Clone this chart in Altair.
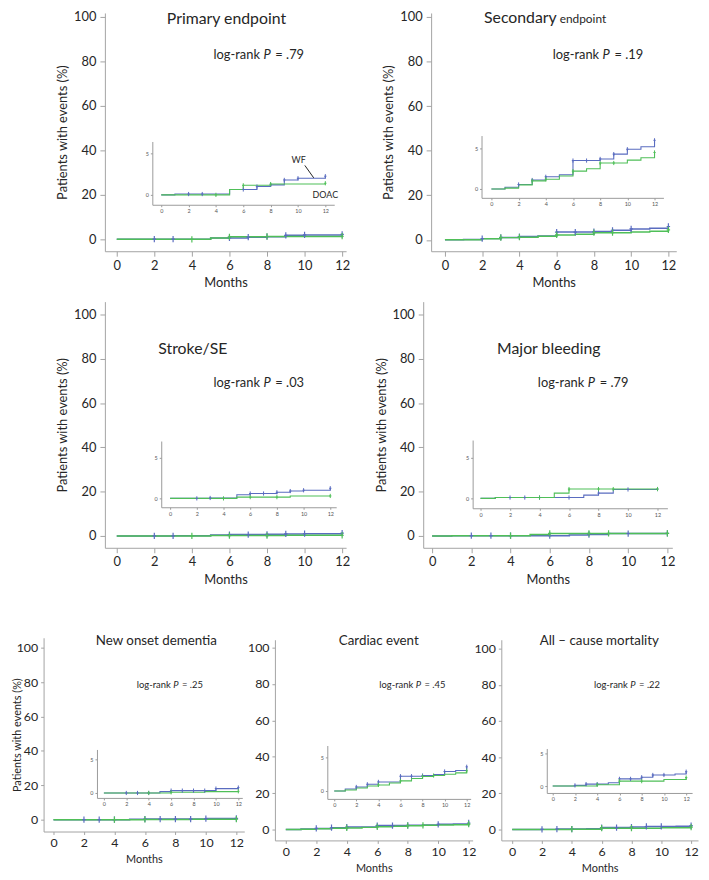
import altair as alt
import pandas as pd

# ---------------- data ----------------
title_main = ["Primary endpoint", "Secondary", "Stroke/SE", "Major bleeding",
              "New onset dementia", "Cardiac event", "All \u2013 cause mortality"]
title_tail = ["", "endpoint", "", "", "", "", ""]
pvalues = [".79", ".19", ".03", ".79", ".25", ".45", ".22"]
month_ticks = [0, 2, 4, 6, 8, 10, 12]
main_pct_ticks = [0, 20, 40, 60, 80, 100]
inset_pct_ticks = [0, 5]
groups = ["WF", "DOAC"]

wf_t = [
    [0, 1, 5, 7, 8, 9, 10, 12],
    [0, 1, 2, 3, 4, 5, 6, 8, 9, 10, 11, 12],
    [0, 3, 5, 6, 8, 9, 10, 12],
    [0, 1, 7, 8, 9, 12],
    [0, 5, 6, 10, 12],
    [0, 1, 2, 3, 4, 6, 8, 9, 10, 11, 12],
    [0, 2, 3, 5, 6, 8, 9, 11, 12],
]
wf_v = [
    [0, 0.1, 0.65, 1.0, 1.2, 1.8, 2.0, 2.25],
    [0, 0.2, 0.55, 1.1, 1.5, 1.75, 3.5, 3.7, 4.3, 4.9, 5.2, 6.0],
    [0, 0.05, 0.45, 0.6, 0.75, 0.9, 1.0, 1.25],
    [0, 0.1, 0.4, 0.65, 1.1, 1.15],
    [0, 0.2, 0.35, 0.65, 0.8],
    [0, 0.3, 0.6, 1.0, 1.35, 2.2, 2.3, 2.45, 2.9, 3.05, 3.6],
    [0, 0.1, 0.3, 0.5, 1.1, 1.35, 1.7, 1.85, 2.2],
]
doac_t = [
    [0, 5, 6, 8, 12],
    [0, 1, 2, 3, 4, 5, 6, 7, 8, 10, 11, 12],
    [0, 5, 9, 12],
    [0, 1, 5, 6, 12],
    [0, 6, 9, 12],
    [0, 1, 2, 3, 4, 5, 6, 7, 8, 9, 10, 11, 12],
    [0, 4, 6, 10, 12],
]
doac_v = [
    [0, 0.65, 1.15, 1.3, 1.4],
    [0, 0.1, 0.5, 1.0, 1.2, 1.6, 2.2, 2.5, 3.2, 3.55, 3.85, 4.5],
    [0, 0.15, 0.3, 0.3],
    [0, 0.1, 0.65, 1.15, 1.15],
    [0, 0.1, 0.2, 0.25],
    [0, 0.15, 0.45, 0.75, 0.9, 1.2, 1.5, 1.85, 2.15, 2.3, 2.5, 2.7, 3.0],
    [0, 0.2, 0.75, 1.0, 1.3],
]
wf_cens = [
    [2, 3, 6, 7, 8, 9, 10, 12],
    [2, 3, 4, 6, 7, 8, 9, 10, 12],
    [2, 3, 6, 7, 8, 9, 10, 12],
    [2, 3, 4, 6, 8, 10, 12],
    [2, 3, 4, 6, 7, 8, 9, 10, 12],
    [2, 3, 4, 6, 7, 8, 10, 12],
    [2, 3, 4, 6, 7, 8, 9, 10, 12],
]
doac_cens = [
    [4, 6, 8, 12],
    [3, 4, 6, 8, 9, 12],
    [4, 6, 8, 12],
    [4, 6, 8, 9, 12],
    [4, 6, 12],
    [4, 6, 8, 9, 12],
    [4, 6, 8, 12],
]

# ---------------- layout (page pixels) ----------------
layouts = [
    dict(main=dict(ax=106, ay=249, x0=118, x12=346, xend=350, y0=237, ytv=12, ytop=8),
         inset=dict(ax=154, ay=202, x0=163, x12=329, xend=338, y0=192, ytv=150, ytop=138)),
    dict(main=dict(ax=436, ay=249, x0=450, x12=676, xend=684, y0=237.5, ytv=12, ytop=8),
         inset=dict(ax=487, ay=195, x0=497, x12=662, xend=671, y0=186, ytv=145, ytop=132)),
    dict(main=dict(ax=106, ay=549, x0=118, x12=346, xend=350, y0=537, ytv=313, ytop=300),
         inset=dict(ax=163, ay=508, x0=172, x12=334, xend=340, y0=499, ytv=458, ytop=441)),
    dict(main=dict(ax=428, ay=549, x0=437, x12=675, xend=680, y0=537, ytv=313, ytop=300),
         inset=dict(ax=478, ay=509, x0=486, x12=665, xend=675, y0=499, ytv=458, ytop=440)),
    dict(main=dict(ax=44, ay=836, x0=54, x12=239, xend=247, y0=824, ytv=650, ytop=640),
         inset=dict(ax=98, ay=802, x0=105, x12=241, xend=245, y0=797, ytv=763, ytop=753)),
    dict(main=dict(ax=278, ay=845, x0=289, x12=474, xend=478, y0=834, ytv=650, ytop=642),
         inset=dict(ax=331, ay=803, x0=338, x12=472, xend=476, y0=795, ytv=761, ytop=749)),
    dict(main=dict(ax=507, ay=845, x0=518, x12=699, xend=706, y0=834, ytv=651, ytop=642),
         inset=dict(ax=553, ay=797, x0=559, x12=694, xend=700, y0=790, ytv=757, ytop=752)),
]
# annotation anchors in data units (month, percent) of each main panel
annot = [
    dict(title=(5.84, 96.9), tfs=16, p=(8.0, 81.0), pfs=13, ytitle=True, row="top"),
    dict(title=(6.08, 97.1), tfs=16, p=(8.66, 81.1), pfs=13, ytitle=True, row="top"),
    dict(title=(4.05, 82.0), tfs=16, p=(8.0, 67.4), pfs=13, ytitle=True, row="top"),
    dict(title=(5.95, 82.0), tfs=16, p=(8.12, 67.4), pfs=13, ytitle=True, row="top"),
    dict(title=(6.75, 101.7), tfs=13.5, p=(8.03, 76.4), pfs=9.5, ytitle=True, row="bottom"),
    dict(title=(6.1, 101.6), tfs=13.5, p=(8.7, 77.7), pfs=9.5, ytitle=False, row="bottom"),
    dict(title=(5.84, 102.2), tfs=13.5, p=(8.1, 78.1), pfs=9.5, ytitle=False, row="bottom"),
]

FONT = "Lato"
INK = "#262626"
AXC = "#a3a3a3"
BLUE = "#5a6cc0"
GREEN = "#4fbf58"
PLUS = "M0,-1L0,1M-0.55,0L0.55,0"
OX = OY = 8
W, H = 701, 872

styles = {
    "top": dict(tick=5, lpad=3, lfs=13, tfs=13, xtpad=5, ytpad=4),
    "bottom": dict(tick=3, lpad=2, lfs=12.5, tfs=11, xtpad=5, ytpad=-6),
}


def step_val(times, vals, t):
    v = vals[0]
    for ti, vi in zip(times, vals):
        if ti <= t:
            v = vi
    return v


def make_scales(g, top):
    kx = (g["x12"] - g["x0"]) / 12.0
    ky = (g["y0"] - g["ytv"]) / float(top)
    xs = alt.Scale(domain=[(g["ax"] - g["x0"]) / kx, (g["xend"] - g["x0"]) / kx],
                   range=[g["ax"] - OX, g["xend"] - OX], nice=False, zero=False)
    ys = alt.Scale(domain=[(g["y0"] - g["ay"]) / ky, (g["y0"] - g["ytop"]) / ky],
                   range=[g["ay"] - OY, g["ytop"] - OY], nice=False, zero=False)
    return xs, ys


color = alt.Color("g:N", scale=alt.Scale(domain=groups, range=[BLUE, GREEN]), legend=None)


def text(X, Y, t, v, label, fs, align="center", dx=0, italic=False, baseline="alphabetic"):
    df = pd.DataFrame({"t": [t], "v": [v], "label": [label]})
    kw = dict(align=align, baseline=baseline, font=FONT, fontSize=fs, color=INK, dx=dx)
    if italic:
        kw["fontStyle"] = "italic"
    return alt.Chart(df).mark_text(**kw).encode(x=X, y=Y, text="label:N")


children = []
for i in range(7):
    rows = []
    for g_name, ts, vs in (("WF", wf_t[i], wf_v[i]), ("DOAC", doac_t[i], doac_v[i])):
        for t, v in zip(ts, vs):
            rows.append({"t": t, "v": v, "g": g_name})
    lines = pd.DataFrame(rows)
    crow = []
    for g_name, cs, ts, vs in (("WF", wf_cens[i], wf_t[i], wf_v[i]),
                               ("DOAC", doac_cens[i], doac_t[i], doac_v[i])):
        for c in cs:
            crow.append({"t": c, "v": step_val(ts, vs, c), "g": g_name})
    cens = pd.DataFrame(crow)

    A = annot[i]
    st = styles[A["row"]]

    # ---- main panel ----
    g = layouts[i]["main"]
    xs, ys = make_scales(g, 100)
    xa = alt.Axis(orient="bottom", offset=(g["ay"] - OY) - H, values=month_ticks, title="Months",
                  grid=False, domainColor=AXC, tickColor=AXC, tickSize=st["tick"],
                  labelPadding=st["lpad"], labelFont=FONT, labelFontSize=st["lfs"], labelColor=INK,
                  labelFlush=False, labelOverlap=False, titleFont=FONT, titleFontSize=st["tfs"],
                  titleFontWeight="normal", titleColor=INK, titlePadding=st["xtpad"])
    ya_kw = dict(orient="left", offset=-(g["ax"] - OX), values=main_pct_ticks, grid=False,
                 domainColor=AXC, tickColor=AXC, tickSize=st["tick"], labelPadding=st["lpad"] + 1,
                 labelFont=FONT, labelFontSize=st["lfs"], labelColor=INK, labelFlush=False,
                 labelOverlap=False, minExtent=0)
    if A["ytitle"]:
        ya = alt.Axis(title="Patients with events (%)", titleFont=FONT, titleFontSize=st["tfs"],
                      titleFontWeight="normal", titleColor=INK, titlePadding=st["ytpad"], **ya_kw)
    else:
        ya = alt.Axis(title=None, **ya_kw)
    X = alt.X("t:Q", scale=xs, axis=xa)
    Y = alt.Y("v:Q", scale=ys, axis=ya)
    layers = [
        alt.Chart(lines).mark_line(interpolate="step-after", strokeWidth=1.5).encode(x=X, y=Y, color=color),
        alt.Chart(cens).mark_point(shape=PLUS, size=40, filled=False, strokeWidth=1.2, opacity=1)
        .encode(x=X, y=Y, color=color),
    ]
    tt, tv = A["title"]
    if title_tail[i]:
        layers.append(text(X, Y, tt, tv, title_main[i], A["tfs"], align="right", dx=-1.5))
        layers.append(text(X, Y, tt, tv, title_tail[i], A["tfs"] * 0.75, align="left", dx=1.5))
    else:
        layers.append(text(X, Y, tt, tv, title_main[i], A["tfs"]))
    pt, pv = A["p"]
    fs = A["pfs"]
    layers.append(text(X, Y, pt, pv, "log-rank", fs, align="right", dx=-0.55 * fs))
    layers.append(text(X, Y, pt, pv, "P", fs, italic=True))
    layers.append(text(X, Y, pt, pv, "= " + pvalues[i], fs, align="left", dx=0.65 * fs))
    children.append(alt.layer(*layers))

    # ---- inset ----
    g = layouts[i]["inset"]
    xs, ys = make_scales(g, 5)
    ixa = alt.Axis(orient="bottom", offset=(g["ay"] - OY) - H, values=month_ticks, title=None,
                   grid=False, domainColor="#9a9a9a", tickColor="#9a9a9a", tickSize=2,
                   labelPadding=2, labelFont=FONT, labelFontSize=5.5, labelColor="#555555",
                   labelFlush=False, labelOverlap=False)
    iya = alt.Axis(orient="left", offset=-(g["ax"] - OX), values=inset_pct_ticks, title=None,
                   grid=False, domainColor="#9a9a9a", tickColor="#9a9a9a", tickSize=2,
                   labelPadding=2, labelFont=FONT, labelFontSize=5.5, labelColor="#555555",
                   labelFlush=False, labelOverlap=False, minExtent=0)
    IX = alt.X("t:Q", scale=xs, axis=ixa)
    IY = alt.Y("v:Q", scale=ys, axis=iya)
    ilayers = [
        alt.Chart(lines).mark_line(interpolate="step-after", strokeWidth=1.1).encode(x=IX, y=IY, color=color),
        alt.Chart(cens).mark_point(shape=PLUS, size=18, filled=False, strokeWidth=1, opacity=1)
        .encode(x=IX, y=IY, color=color),
    ]
    if i == 0:
        ilayers.append(text(IX, IY, 10.05, 4.17, "WF", 9, baseline="middle"))
        ilayers.append(text(IX, IY, 12.0, 0.0, "DOAC", 9, baseline="middle"))
        arrow = pd.DataFrame({"t": [10.5], "v": [3.55], "t2": [11.15], "v2": [2.05]})
        ilayers.append(alt.Chart(arrow).mark_rule(color="#222222", strokeWidth=1)
                       .encode(x=IX, y=IY, x2="t2:Q", y2="v2:Q"))
    children.append(alt.layer(*ilayers))

chart = (
    alt.layer(*children)
    .resolve_scale(x="independent", y="independent")
    .properties(width=W, height=H, padding=0, autosize=alt.AutoSizeParams(type="none"))
    .configure_view(stroke=None)
)

chart.save("out.html", embed_options={"renderer": "svg", "actions": False})
